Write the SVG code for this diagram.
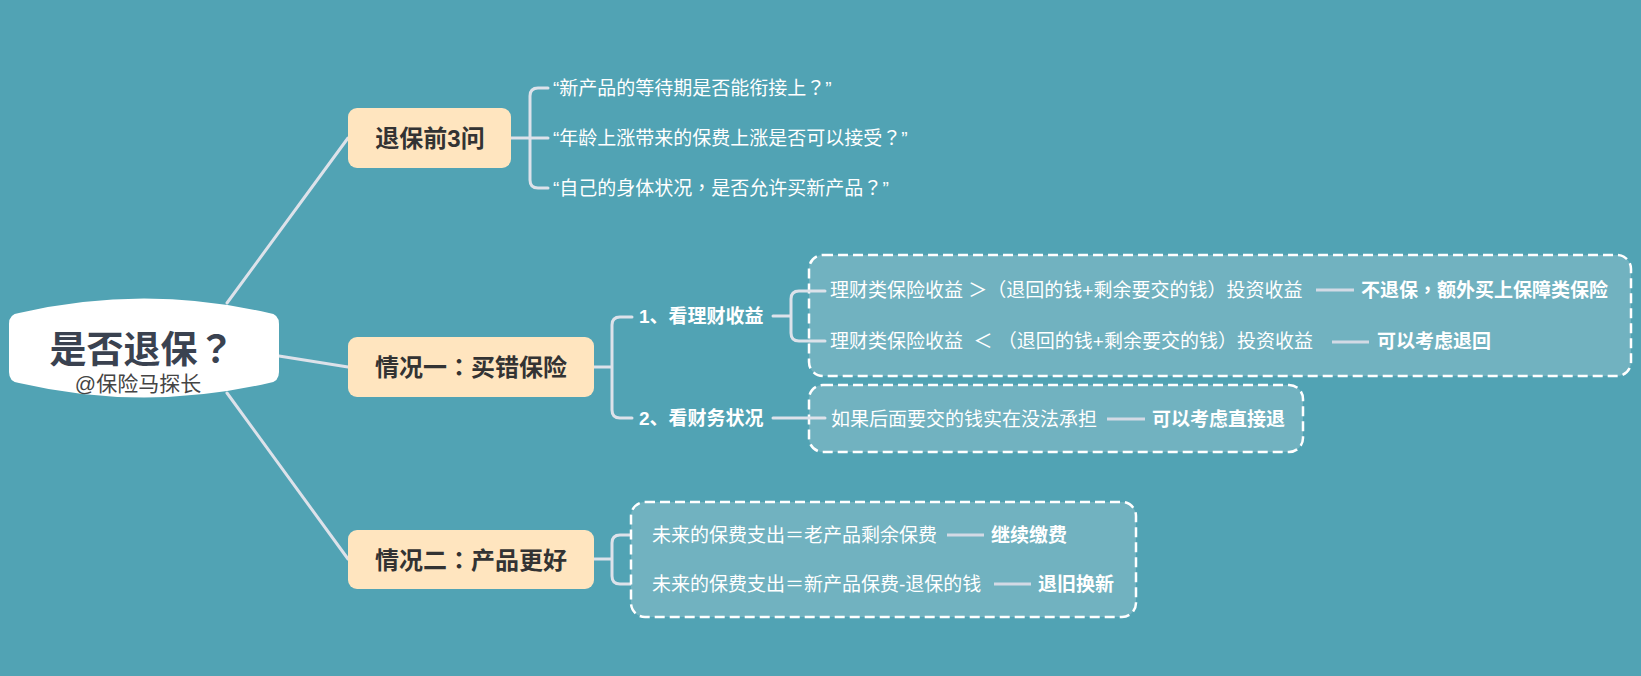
<svg xmlns="http://www.w3.org/2000/svg" width="1641" height="676" viewBox="0 0 1641 676">
<style>
text{font-family:"Liberation Sans","Noto Sans CJK SC",sans-serif}
.p{font-family:"Noto Sans CJK TC",sans-serif}
.bg{fill:#51a3b4}
.conn{fill:none;stroke:#dde2ea;stroke-width:3;stroke-linecap:round;stroke-linejoin:round}
.dash{fill:none;stroke:#d3dae5;stroke-width:3}
.node{fill:#ffe5bf}
.nt{font-size:24px;font-weight:bold;fill:#333;text-anchor:middle}
.box{fill:#71b2c0;stroke:#ffffff;stroke-width:2.5;stroke-dasharray:10 5}
.t{font-size:19px;fill:#ffffff}
.b{font-size:19px;font-weight:bold;fill:#ffffff}
</style>
<rect class="bg" x="0" y="0" width="1641" height="676"/>
<g id="connectors">
<path class="conn" d="M227,303 L348,138"/>
<path class="conn" d="M279,356 L348,367"/>
<path class="conn" d="M227,393 L348,559"/>
<path class="conn" d="M511,138 H530 M548,88 H538 Q530,88 530,96 V180 Q530,188 538,188 H548 M530,138 H548"/>
<path class="conn" d="M594,367 H612 M632,317 H620 Q612,317 612,325 V410 Q612,418 620,418 H632"/>
<path class="conn" d="M594,559 H612 M645,535 H620 Q612,535 612,543 V576 Q612,584 620,584 H645"/>
</g>
<g id="box-case1-income">
<rect class="box" x="809" y="255" width="822" height="121" rx="14"/>
</g>
<g id="box-case1-finance">
<rect class="box" x="809" y="385" width="494" height="67" rx="14"/>
</g>
<g id="box-case2">
<rect class="box" x="631" y="502" width="505" height="115" rx="14"/>
</g>
<g id="sub-connectors">
<path class="conn" d="M773,316 H791 M825,291 H799 Q791,291 791,299 V333 Q791,341 799,341 H825"/>
<path class="conn" d="M773,418 H825"/>
<path class="dash" d="M1316,290 H1354 M1332,342 H1369 M1107,419 H1145 M947,535 H984 M994,584 H1031"/>
</g>
<g id="root">
<path fill="#ffffff" d="M9,324 Q9,314 19,313 Q144,284 269,313 Q279,314 279,324 L279,372 Q279,382 269,383 Q144,412 19,383 Q9,382 9,372 Z"/>
<text x="142" y="363" font-size="37" font-weight="bold" fill="#3a4250" text-anchor="middle">是否退保<tspan class="p">？</tspan></text>
<text x="138" y="391" font-size="21" fill="#444" text-anchor="middle">@保险马探长</text>
</g>
<g id="n-before">
<rect class="node" x="348" y="108" width="163" height="60" rx="9"/>
<text class="nt" x="430" y="147">退保前3问</text>
</g>
<g id="q1"><text class="t" x="553" y="95">“新产品的等待期是否能衔接上<tspan class="p">？</tspan>”</text></g>
<g id="q2"><text class="t" x="553" y="145">“年龄上涨带来的保费上涨是否可以接受<tspan class="p">？</tspan>”</text></g>
<g id="q3"><text class="t" x="553" y="195">“自己的身体状况<tspan class="p">，</tspan>是否允许买新产品<tspan class="p">？</tspan>”</text></g>
<g id="n-case1">
<rect class="node" x="348" y="337" width="246" height="60" rx="9"/>
<text class="nt" x="471" y="376">情况一<tspan class="p">：</tspan>买错保险</text>
</g>
<g id="c1-1"><text class="b" x="639" y="323">1、看理财收益</text></g>
<g id="c1-2"><text class="b" x="639" y="425">2、看财务状况</text></g>
<g id="r1"><text class="t" x="830" y="297" xml:space="preserve">理财类保险收益 ＞（退回的钱+剩余要交的钱）投资收益</text></g>
<g id="r1b"><text class="b" x="1361" y="297">不退保<tspan class="p">，</tspan>额外买上保障类保险</text></g>
<g id="r2"><text class="t" x="830" y="348" xml:space="preserve">理财类保险收益  ＜ （退回的钱+剩余要交的钱）投资收益</text></g>
<g id="r2b"><text class="b" x="1377" y="348">可以考虑退回</text></g>
<g id="r3"><text class="t" x="831" y="426">如果后面要交的钱实在没法承担</text></g>
<g id="r3b"><text class="b" x="1152" y="426">可以考虑直接退</text></g>
<g id="n-case2">
<rect class="node" x="348" y="530" width="246" height="59" rx="9"/>
<text class="nt" x="471" y="569">情况二<tspan class="p">：</tspan>产品更好</text>
</g>
<g id="r4"><text class="t" x="652" y="542">未来的保费支出＝老产品剩余保费</text></g>
<g id="r4b"><text class="b" x="991" y="542">继续缴费</text></g>
<g id="r5"><text class="t" x="652" y="591">未来的保费支出＝新产品保费-退保的钱</text></g>
<g id="r5b"><text class="b" x="1038" y="591">退旧换新</text></g>
</svg>
